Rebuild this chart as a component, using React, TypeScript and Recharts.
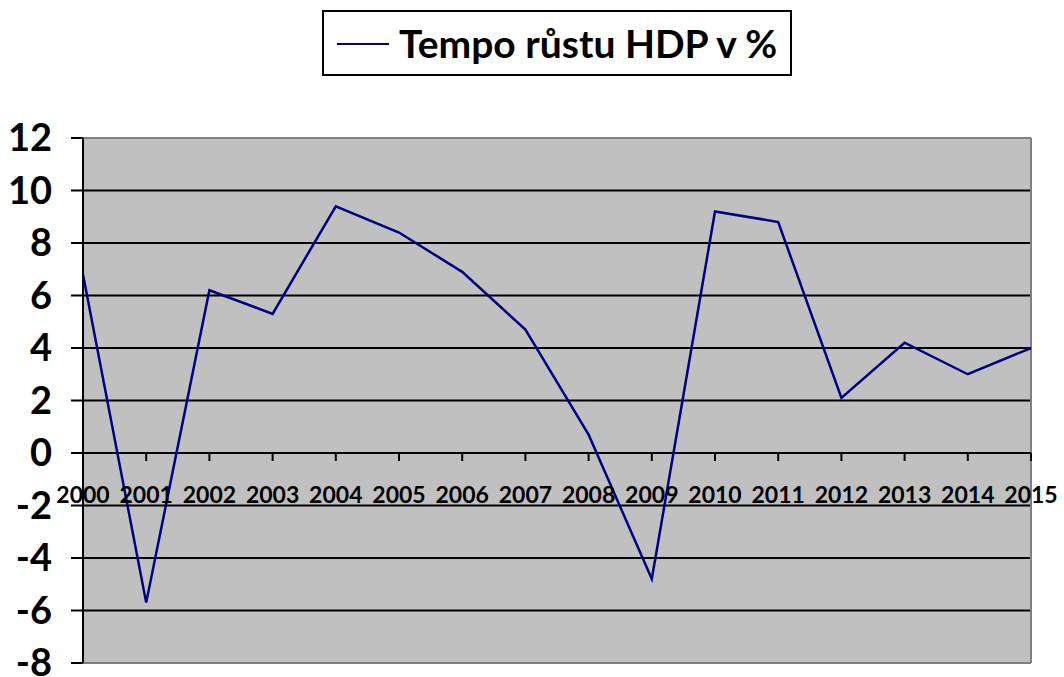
import { LineChart, Line, XAxis, YAxis, CartesianGrid, ReferenceLine } from "recharts";

const years = [2000, 2001, 2002, 2003, 2004, 2005, 2006, 2007, 2008, 2009, 2010, 2011, 2012, 2013, 2014, 2015];
const growth = [6.8, -5.7, 6.2, 5.3, 9.4, 8.4, 6.9, 4.7, 0.7, -4.8, 9.2, 8.8, 2.1, 4.2, 3.0, 4.0];
const yTicks = [-8, -6, -4, -2, 0, 2, 4, 6, 8, 10, 12];
const seriesName = "Tempo růstu HDP v %";

const data = years.map((year, i) => ({ year, value: growth[i] }));

const W = 1064;
const H = 677;
const TOP = 138;
const BOTTOM = 14;
const Y_MIN = -8;
const Y_MAX = 12;
const plotH = H - TOP - BOTTOM;
const zeroY = TOP + (plotH * Y_MAX) / (Y_MAX - Y_MIN);

const FONT = "Lato, 'Noto Sans', sans-serif";
const NAVY = "#000080";

// year labels sit under the zero line, like the original spreadsheet chart
function YearTick(props: any) {
  const { x, payload } = props;
  return (
    <g>
      <line x1={x} x2={x} y1={zeroY} y2={zeroY + 8} stroke="#000" strokeWidth={2} />
      <text x={x} y={zeroY + 50} textAnchor="middle" fontSize={23} fontWeight={700} fill="#000" fontFamily={FONT}>
        {payload.value}
      </text>
    </g>
  );
}

export default function App() {
  return (
    <div style={{ position: "absolute", left: 0, top: 0, width: W, height: H, background: "#fff", fontFamily: FONT }}>
      <LineChart width={W} height={H} data={data} margin={{ top: TOP, right: 33, bottom: 0, left: 8 }}>
        <CartesianGrid vertical={false} stroke="#000" strokeWidth={2} fill="#c0c0c0" fillOpacity={1} />
        <XAxis
          dataKey="year"
          type="number"
          domain={[2000, 2015]}
          ticks={years}
          height={BOTTOM}
          axisLine={false}
          tickLine={false}
          tick={<YearTick />}
          interval={0}
        />
        <YAxis
          domain={[Y_MIN, Y_MAX]}
          ticks={yTicks}
          width={75}
          interval={0}
          axisLine={{ stroke: "#000", strokeWidth: 2 }}
          tickLine={{ stroke: "#000", strokeWidth: 2 }}
          tickSize={12}
          tickMargin={19}
          tick={{ fill: "#000", fontSize: 38, fontWeight: 700, fontFamily: FONT }}
        />
        <ReferenceLine y={Y_MAX} stroke="#808080" strokeWidth={2} />
        <ReferenceLine y={Y_MIN} stroke="#808080" strokeWidth={2} />
        <ReferenceLine x={2015} stroke="#808080" strokeWidth={2} />
        <ReferenceLine y={0} stroke="#000" strokeWidth={2} />
        <Line
          type="linear"
          dataKey="value"
          name={seriesName}
          stroke={NAVY}
          strokeWidth={2.5}
          dot={false}
          isAnimationActive={false}
        />
      </LineChart>
      <div
        style={{
          position: "absolute",
          left: 322,
          top: 10,
          width: 466,
          height: 62,
          border: "2px solid #000",
          display: "flex",
          alignItems: "center",
          boxSizing: "content-box",
        }}
      >
        <svg width={75} height={20} style={{ display: "block" }}>
          <line x1={13} x2={65} y1={11} y2={11} stroke={NAVY} strokeWidth={2} />
        </svg>
        <span style={{ fontSize: 39, fontWeight: 700, color: "#000", whiteSpace: "nowrap" }}>{seriesName}</span>
      </div>
    </div>
  );
}
